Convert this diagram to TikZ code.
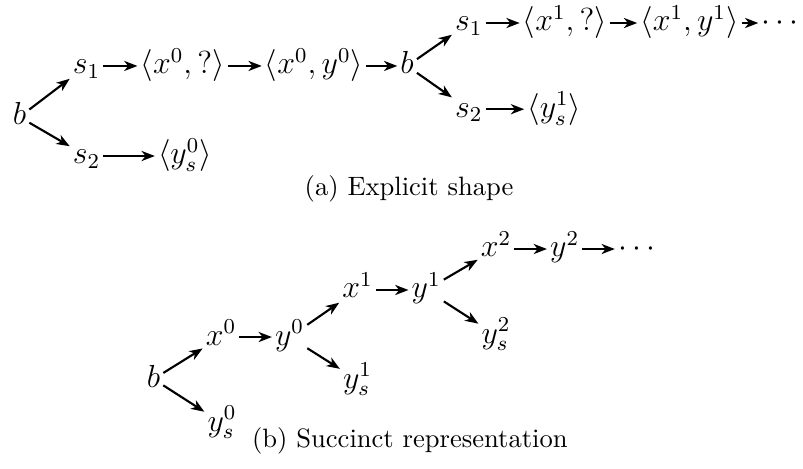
\documentclass[tikz,border=0pt]{standalone}
\usetikzlibrary{positioning,arrows.meta}
\begin{document}
\begin{tikzpicture}[node distance=0.43cm, >={Stealth[length=5pt,width=3.8pt,inset=1.5pt]},
      tok/.style={inner sep=1pt, font=\large, text height=8pt, text depth=2pt},
      arr/.style={->, thick}]
      \useasboundingbox (0,0) rectangle (10.62,6.19);
      % (a) explicit shape
      \node[tok, anchor=base] (b1) at (0.258,4.537) {$b$};
      \node[tok, anchor=base] (s1a) at (1.145,5.212) {$s_1$};
      \node[tok, anchor=base] (s2a) at (1.145,4.021) {$s_2$};
      \node[tok, base right=0.45cm of s1a] (x0q) {$\langle x^0,?\rangle$};
      \node[tok, base right=0.45cm of x0q] (x0y0) {$\langle x^0,y^0\rangle$};
      \node[tok, base right=0.41cm of x0y0] (b2) {$b$};
      \node[tok, base right=0.68cm of s2a] (ys0a) {$\langle y^0_s\rangle$};
      \node[tok, anchor=base] (s1b) at (6.2,5.78) {$s_1$};
      \node[tok, anchor=base] (s2b) at (6.2,4.64) {$s_2$};
      \node[tok, base right=0.45cm of s1b] (x1q) {$\langle x^1,?\rangle$};
      \node[tok, base right=0.36cm of x1q] (x1y1) {$\langle x^1,y^1\rangle$};
      \node[tok, base right=0.22cm of x1y1] (dotsa) {$\cdots$};
      \node[tok, base right=0.51cm of s2b] (ys1a) {$\langle y^1_s\rangle$};
      \draw[arr] (b1) -- (s1a);
      \draw[arr] (b1) -- (s2a);
      \draw[arr] (s1a) -- (x0q);
      \draw[arr] (x0q) -- (x0y0);
      \draw[arr] (x0y0) -- (b2);
      \draw[arr] (s2a) -- (ys0a);
      \draw[arr] (b2) -- (s1b);
      \draw[arr] (b2) -- (s2b);
      \draw[arr] (s1b) -- (x1q);
      \draw[arr] (x1q) -- (x1y1);
      \draw[arr] (x1y1) -- (dotsa);
      \draw[arr] (s2b) -- (ys1a);
      \node[anchor=base] (capa) at (5.41,3.604) {(a) Explicit shape};
      % (b) succinct representation
      \node[tok, anchor=base] (bb) at (2.030,1.071) {$b$};
      \node[tok, anchor=base] (x0) at (2.923,1.627) {$x^0$};
      \node[tok, anchor=base] (ys0) at (2.937,0.489) {$y^0_s$};
      \node[tok, base right=of x0] (y0) {$y^0$};
      \node[tok, anchor=base] (x1) at (4.729,2.249) {$x^1$};
      \node[tok, anchor=base] (ys1) at (4.729,1.058) {$y^1_s$};
      \node[tok, base right=of x1] (y1) {$y^1$};
      \node[tok, anchor=base] (x2) at (6.561,2.791) {$x^2$};
      \node[tok, anchor=base] (ys2) at (6.561,1.653) {$y^2_s$};
      \node[tok, base right=of x2] (y2) {$y^2$};
      \node[tok, base right=of y2] (dotsb) {$\cdots$};
      \draw[arr] (bb) -- (x0);
      \draw[arr] (bb) -- (ys0);
      \draw[arr] (x0) -- (y0);
      \draw[arr] (y0) -- (x1);
      \draw[arr] (y0) -- (ys1);
      \draw[arr] (x1) -- (y1);
      \draw[arr] (y1) -- (x2);
      \draw[arr] (y1) -- (ys2);
      \draw[arr] (x2) -- (y2);
      \draw[arr] (y2) -- (dotsb);
      \node[anchor=base] (capb) at (5.42,0.265) {(b) Succinct representation};
    \end{tikzpicture}
\end{document}
